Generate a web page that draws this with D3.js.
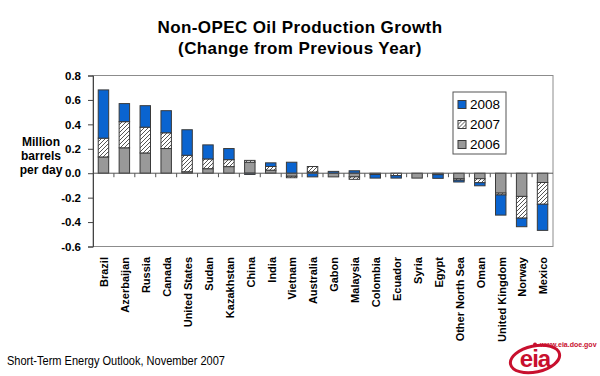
<!DOCTYPE html>
<html>
<head>
<meta charset="utf-8">
<script src="https://cdn.jsdelivr.net/npm/d3@7"></script>
<style>
  body { margin: 0; background: #fff; }
  svg { display: block; font-family: "Liberation Sans", Arial, sans-serif; }
</style>
</head>
<body>
<div class="chart"></div>
<script>
// data (million barrels per day)
let countries = ["Brazil", "Azerbaijan", "Russia", "Canada", "United States", "Sudan", "Kazakhstan",
    "China", "India", "Vietnam", "Australia", "Gabon", "Malaysia", "Colombia", "Ecuador", "Syria",
    "Egypt", "Other North Sea", "Oman", "United Kingdom", "Norway", "Mexico"];
let growth2006 = [0.133, 0.208, 0.166, 0.202, 0.012, 0.037, 0.054, 0.090, 0.025, -0.025, 0.010, -0.030,
    -0.030, -0.010, 0.000, -0.040, -0.012, -0.045, -0.045, -0.163, -0.190, -0.076];
let growth2007 = [0.154, 0.214, 0.211, 0.129, 0.135, 0.080, 0.057, 0.015, 0.030, -0.012, 0.045, 0.000,
    -0.020, 0.000, -0.020, 0.000, 0.000, -0.012, -0.033, -0.015, -0.178, -0.178];
let growth2008 = [0.395, 0.148, 0.176, 0.181, 0.209, 0.115, 0.091, -0.010, 0.030, 0.090, -0.030, 0.015,
    0.020, -0.030, -0.020, 0.000, -0.030, -0.015, -0.025, -0.165, -0.070, -0.214];
let years = ["2006", "2007", "2008"];
let yTicks = [-0.6, -0.4, -0.2, 0, 0.2, 0.4, 0.6, 0.8];
let yTickLabels = ["-0.6", "-0.4", "-0.2", "0.0", "0.2", "0.4", "0.6", "0.8"];

let W = 600, H = 376;
let svg = d3.select(".chart").append("svg")
    .attr("width", W)
    .attr("height", H)

svg.append("rect").attr("width", W).attr("height", H).attr("fill", "#fff")

// hatch for 2007
let defs = svg.append("defs")
let pat = defs.append("pattern")
    .attr("id", "hatch")
    .attr("patternUnits", "userSpaceOnUse")
    .attr("width", 4).attr("height", 4)
pat.append("rect").attr("width", 4).attr("height", 4).attr("fill", "#fff")
pat.append("path")
    .attr("d", "M-1,1 L1,-1 M0,4 L4,0 M3,5 L5,3")
    .attr("stroke", "#555")
    .attr("stroke-width", 1)

let fills = { "2006": "#999999", "2007": "url(#hatch)", "2008": "#0a64d0" };

let x = d3.scaleBand()
    .domain(countries)
    .range([93, 553])
    .paddingInner(0.5)
    .paddingOuter(0.25)

let y = d3.scaleLinear()
    .domain([-0.6, 0.8])
    .range([246.5, 75.5])

// plot frame
svg.append("rect")
    .attr("x", 93).attr("y", y(0.8))
    .attr("width", 460).attr("height", y(-0.6) - y(0.8))
    .attr("fill", "none")
    .attr("stroke", "#8c8c8c")

// stacked bars
let rows = countries.map((c, i) => ({ name: c, "2006": growth2006[i], "2007": growth2007[i], "2008": growth2008[i] }));
let stack = d3.stack().keys(years).offset(d3.stackOffsetDiverging);
let series = stack(rows);

svg.append("g").selectAll("g")
    .data(series)
    .enter()
    .append("g")
    .attr("fill", d => fills[d.key])
    .selectAll("rect")
    .data(d => d.filter(s => s[1] - s[0] !== 0))
    .enter()
    .append("rect")
    .attr("x", d => x(d.data.name))
    .attr("width", x.bandwidth())
    .attr("y", d => y(Math.max(d[0], d[1])))
    .attr("height", d => Math.abs(y(d[0]) - y(d[1])))
    .attr("stroke", "#3a3a3a")
    .attr("stroke-width", 1)

// zero line + category ticks
let xAxis = svg.append("g")
xAxis.append("line")
    .attr("x1", 93).attr("x2", 553)
    .attr("y1", y(0)).attr("y2", y(0))
    .attr("stroke", "#555")
xAxis.selectAll(".tk")
    .data(countries.slice(1))
    .enter()
    .append("line")
    .attr("x1", d => x(d) - x.step() * x.paddingInner() / 2)
    .attr("x2", d => x(d) - x.step() * x.paddingInner() / 2)
    .attr("y1", y(0)).attr("y2", y(0) + 4)
    .attr("stroke", "#555")

xAxis.selectAll(".lbl")
    .data(countries)
    .enter()
    .append("text")
    .attr("transform", d => "translate(" + (x(d) + x.bandwidth() / 2 + 1) + ",257) rotate(-90)")
    .attr("text-anchor", "end")
    .attr("dy", "0.35em")
    .attr("font-size", 11)
    .attr("font-weight", "bold")
    .attr("fill", "#000")
    .text(d => d)

// y axis
let yAxis = svg.append("g")
    .attr("transform", "translate(93,0)")
    .call(d3.axisLeft(y).tickValues(yTicks).tickSize(5).tickPadding(7)
        .tickFormat((d, i) => yTickLabels[i]))
yAxis.select(".domain").attr("stroke", "#444")
yAxis.selectAll(".tick line").attr("stroke", "#444")
yAxis.selectAll("text")
    .attr("font-family", "'Liberation Sans', Arial, sans-serif")
    .attr("font-size", 11.5)
    .attr("font-weight", "bold")
    .attr("fill", "#000")

svg.append("text")
    .attr("x", 41).attr("y", 146)
    .attr("text-anchor", "middle")
    .attr("font-size", 12).attr("font-weight", "bold")
    .selectAll("tspan")
    .data(["Million", "barrels", "per day"])
    .enter()
    .append("tspan")
    .attr("x", 41)
    .attr("dy", (d, i) => i === 0 ? 0 : 14)
    .text(d => d)

// titles
svg.append("text")
    .attr("x", 300).attr("y", 33)
    .attr("text-anchor", "middle")
    .attr("font-size", 17).attr("font-weight", "bold")
    .attr("letter-spacing", 0.4)
    .text("Non-OPEC Oil Production Growth")
svg.append("text")
    .attr("x", 300).attr("y", 54)
    .attr("text-anchor", "middle")
    .attr("font-size", 17).attr("font-weight", "bold")
    .attr("letter-spacing", 0.4)
    .text("(Change from Previous Year)")

// legend
let legend = svg.append("g")
legend.append("rect")
    .attr("x", 453).attr("y", 92)
    .attr("width", 53).attr("height", 62)
    .attr("fill", "#fff")
    .attr("stroke", "#555")
let legItems = years.slice().reverse();
let lg = legend.selectAll(".li")
    .data(legItems)
    .enter()
    .append("g")
    .attr("transform", (d, i) => "translate(458," + (100.5 + i * 20) + ")")
lg.append("rect")
    .attr("width", 8).attr("height", 8)
    .attr("fill", d => fills[d])
    .attr("stroke", "#3a3a3a")
lg.append("text")
    .attr("x", 12).attr("y", 8)
    .attr("font-size", 13.5)
    .attr("fill", "#000")
    .text(d => d)

// footer
svg.append("text")
    .attr("x", 7).attr("y", 365)
    .attr("font-size", 12.5)
    .attr("textLength", 218)
    .attr("lengthAdjust", "spacingAndGlyphs")
    .attr("fill", "#000")
    .text("Short-Term Energy Outlook, November 2007")

// eia logo
let logo = svg.append("g").attr("fill", "#c8102e")
logo.append("text")
    .attr("x", 540).attr("y", 347)
    .attr("font-size", 7)
    .attr("font-weight", "bold")
    .text("www.eia.doe.gov")
logo.append("circle").attr("cx", 535).attr("cy", 344.5).attr("r", 2)
logo.append("ellipse")
    .attr("cx", 535).attr("cy", 359)
    .attr("rx", 25).attr("ry", 13)
    .attr("transform", "rotate(-12,535,359)")
    .attr("fill", "none")
    .attr("stroke", "#c8102e")
    .attr("stroke-width", 3)
logo.append("text")
    .attr("x", 535).attr("y", 367)
    .attr("text-anchor", "middle")
    .attr("font-size", 24)
    .attr("font-weight", "bold")
    .attr("letter-spacing", -1)
    .text("eia")
</script>
</body>
</html>
